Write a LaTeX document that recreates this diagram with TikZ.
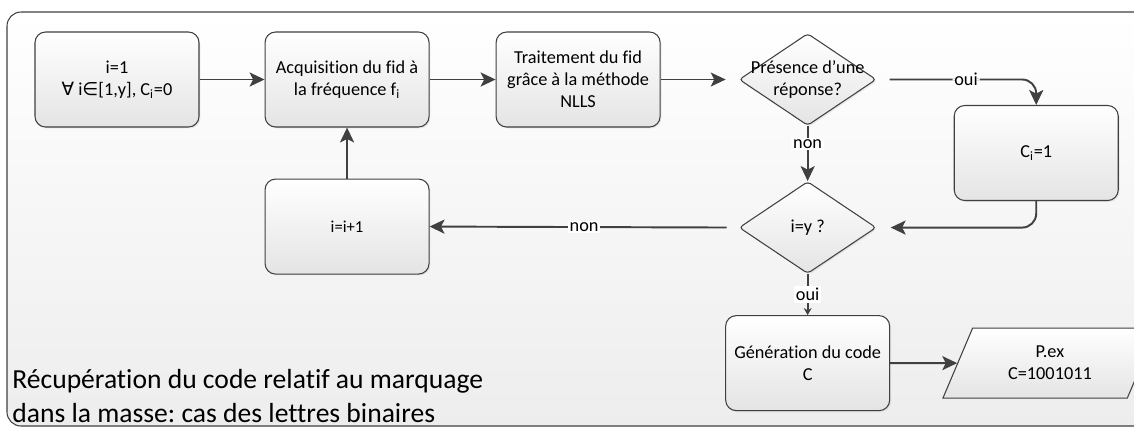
\documentclass[tikz,border=0pt]{standalone}
\usepackage{fontspec}
\setmainfont{Carlito}[Ligatures=NoCommon]
\newfontfamily\symfont{DejaVu Sans}
\usetikzlibrary{positioning,arrows.meta,shapes.geometric,shadows}
\definecolor{lineGray}{HTML}{404040}
\definecolor{boxBottom}{HTML}{E4E4E4}
\frenchspacing

\begin{document}
\begin{tikzpicture}[node distance=1.3cm, >={Stealth[length=8.5pt,width=8pt,inset=2pt]},
    box/.style={draw=lineGray, line width=0.6pt, rectangle, rounded corners=6pt, top color=white, bottom color=boxBottom,
      minimum width=3.28cm, minimum height=1.9cm, align=center, font=\fontsize{10.4}{12.6}\selectfont, inner sep=2pt,
      drop shadow={shadow xshift=0.8pt, shadow yshift=-0.8pt, opacity=0.15}},
    dec/.style={draw=lineGray, line width=0.6pt, diamond, rounded corners=2pt, top color=white, bottom color=boxBottom,
      minimum width=2.74cm, minimum height=1.84cm, inner sep=0pt,
      drop shadow={shadow xshift=0.8pt, shadow yshift=-0.8pt, opacity=0.15}},
    dectext/.style={align=center, font=\fontsize{10.4}{12.6}\selectfont, inner sep=0pt},
    io/.style={draw=lineGray, line width=0.6pt, trapezium, trapezium left angle=67, trapezium right angle=113,
      top color=white, bottom color=boxBottom, minimum width=3.1cm, minimum height=1.4cm, align=center,
      font=\fontsize{10.4}{12.6}\selectfont, inner sep=2pt},
    conn/.style={->, draw=lineGray, line width=1.1pt},
    lbl/.style={fill=white, inner sep=1pt, font=\fontsize{10.4}{12}\selectfont}]

  % Marco de fondo (abierto a la derecha)
  \useasboundingbox (0,0) rectangle (22.68,-8.56);
  \clip (0,0) rectangle (22.68,-8.56);
  \path[rounded corners=8pt, top color=white, bottom color=black!7] (0.14,-0.24) rectangle (25,-8.52);
  \draw[lineGray, line width=0.6pt, rounded corners=8pt] (25,-0.24) -- (0.14,-0.24) -- (0.14,-8.52) -- (25,-8.52);

  % Fila superior
  \node[box] (init) at (2.34,-1.59) {i=1\\{\symfont ∀} i{\symfont ∈}[1,y], C\textsubscript{i}=0};
  \node[box, right=1.3cm of init] (acq) {Acquisition du fid à\\la fréquence f\textsubscript{i}};
  \node[box, right=1.32cm of acq] (trait) {Traitement du fid\\grâce à la méthode\\NLLS};
  \node[dec, right=1.56cm of trait] (pres) {};
  \node[dectext] (presText) at (pres) {Présence d’une\\réponse?};
  \node[box, right=1.54cm of pres, yshift=-1.47cm] (ci) {C\textsubscript{i}=1};

  % Bucle y salida
  \node[dec, below=1.1cm of pres] (isy) {};
  \node[dectext] (isyText) at (isy) {i=y ?};
  \node[box, below=1.02cm of acq, font=\fontsize{9.5}{11}\selectfont] (incr) {i=i+1};
  \node[box, below=0.82cm of isy] (gen) {Génération du code\\C};
  \node[io, right=1.34cm of gen] (pex) {P.ex\\C=1001011};

  % Titulo
  \node[anchor=base west, align=left, inner sep=0pt, font=\fontsize{15.7}{19.3}\selectfont] (caption) at (0.24,-8.44)
    {Récupération du code relatif au marquage\\dans la masse: cas des lettres binaires};

  % Conexiones
  \draw[conn] (init) -- (acq);
  \draw[conn] (acq) -- (trait);
  \draw[conn, shorten >=0.26cm] (trait) -- (pres);
  \draw[conn, rounded corners=8pt, shorten <=0.26cm] (pres.east) -| node[lbl, pos=0.28] (ouiPres) {oui} (ci.north);
  \draw[conn] (pres) -- node[lbl, pos=0.33] (nonPres) {non} (isy);
  \draw[conn, rounded corners=8pt, shorten >=0.28cm] (ci.south) |- (isy.east);
  \draw[conn, shorten <=0.24cm] (isy.west) -- node[lbl, pos=0.5] (nonIsy) {non} (incr.east);
  \draw[conn] (incr) -- (acq);
  \draw[conn, -{Stealth[length=4pt,width=4.5pt]}] (isy) -- node[lbl] (ouiIsy) {oui} (gen);
  \draw[conn] (gen) -- (pex);

\end{tikzpicture}
\end{document}
